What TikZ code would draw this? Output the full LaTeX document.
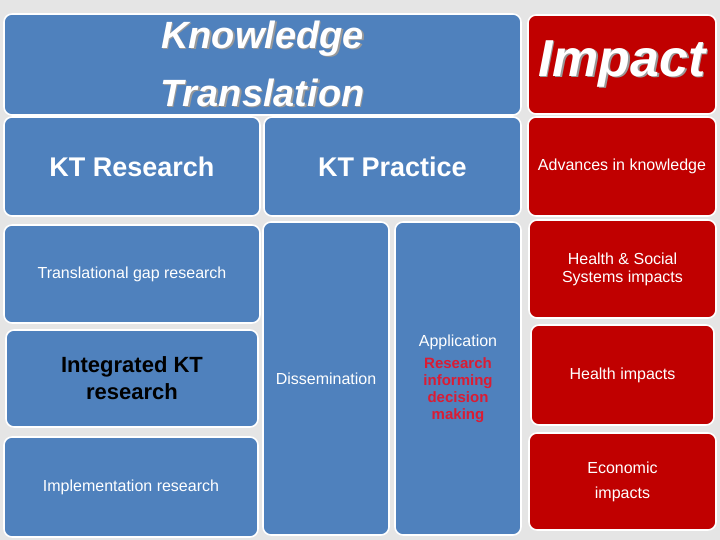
\documentclass[tikz,border=0pt]{standalone}
\usepackage{fontspec}
\setmainfont{Liberation Sans}
\usepackage{xcolor}
\usepackage{tikz}
\definecolor{ktblue}{RGB}{79,129,189}
\definecolor{impred}{RGB}{192,0,0}
\definecolor{pagebg}{RGB}{229,229,229}
\definecolor{hilite}{RGB}{218,28,52}
\tikzset{
  every picture/.style={line cap=round,line join=round},
  panel/.style={draw=white, line width=1.6pt, rounded corners=8pt,
    text=white, align=center, inner sep=2pt},
  bluepanel/.style={panel, fill=ktblue},
  redpanel/.style={panel, fill=impred},
  bigtitle/.style={font=\fontsize{38}{58}\selectfont\bfseries\itshape},
  headtxt/.style={font=\fontsize{27}{30}\selectfont\bfseries},
  smalltxt/.style={font=\fontsize{16}{18}\selectfont},
}
\newcommand{\redline}[1]{\textcolor{hilite}{\fontsize{15}{17}\selectfont\bfseries #1}}
\newcommand{\shadowed}[1]{\makebox[0pt][l]{\hspace{1.5pt}\raisebox{-1.5pt}{\textcolor{gray!80}{#1}}}#1}

\begin{document}
\begin{tikzpicture}[x=1pt,y=-1pt]
    % page
    \fill[pagebg] (0,0) rectangle (720,540);
    % knowledge translation column
    \node[bluepanel, bigtitle, minimum width=517pt, minimum height=101pt] (kt) at (262.5,64.5)
      {\shadowed{Knowledge}\\\shadowed{Translation}};
    \node[bluepanel, headtxt, minimum width=256pt, minimum height=99pt] (ktres) at (132,166.5) {KT Research};
    \node[bluepanel, headtxt, minimum width=257pt, minimum height=99pt] (ktprac) at (392.5,166.5) {KT Practice};
    \node[bluepanel, smalltxt, minimum width=256pt, minimum height=98pt] (gap) at (132,274) {Translational gap research};
    \node[bluepanel, minimum width=252pt, minimum height=97pt, text=black,
      font=\fontsize{22}{27}\selectfont\bfseries] (ikt) at (132,378.5) {Integrated KT\\research};
    \node[bluepanel, smalltxt, minimum width=254pt, minimum height=100pt] (impl) at (131,487) {Implementation research};
    \node[bluepanel, smalltxt, minimum width=126pt, minimum height=313pt] (diss) at (326,378.5) {Dissemination};
    \node[bluepanel, font=\fontsize{16}{17}\selectfont, minimum width=126pt, minimum height=313pt] (appl) at (458,378.5)
      {Application\\[5pt]\redline{Research}\\\redline{informing}\\\redline{decision}\\\redline{making}};
    % impact column
    \node[redpanel, font=\fontsize{52}{60}\selectfont\bfseries\itshape,
      minimum width=188pt, minimum height=99pt] (imp) at (622,64.5) {\shadowed{Impact}};
    \node[redpanel, smalltxt, minimum width=188pt, minimum height=99pt] (adv) at (622,166.5) {Advances in knowledge};
    \node[redpanel, smalltxt, minimum width=187pt, minimum height=98pt] (hss) at (622.5,269)
      {Health \& Social\\Systems impacts};
    \node[redpanel, smalltxt, minimum width=183pt, minimum height=100pt] (hlth) at (622.5,375) {Health impacts};
    \node[redpanel, font=\fontsize{16}{25}\selectfont, minimum width=187pt, minimum height=97pt] (econ) at (622.5,481.5)
      {Economic\\impacts};
\end{tikzpicture}
\end{document}
